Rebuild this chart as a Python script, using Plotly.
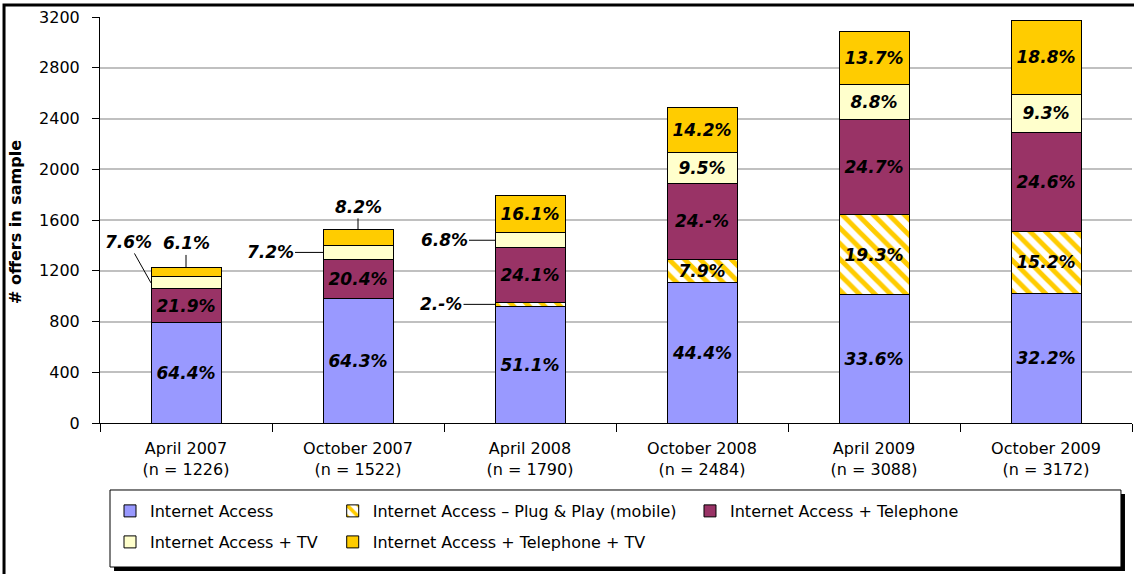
import plotly.graph_objects as go

# categories
periods = ["April 2007", "October 2007", "April 2008", "October 2008", "April 2009", "October 2009"]
n_sample = [1226, 1522, 1790, 2484, 3088, 3172]

# offers per product type
internet = [792, 981, 920, 1105, 1010, 1021]
plug = [0, 0, 30, 185, 630, 489]
tel = [265, 310, 433, 598, 750, 783]
tv = [94, 107, 115, 245, 280, 299]
tel_tv = [75, 124, 292, 351, 418, 580]

# share labels as printed on the chart
lbl_internet = ["64.4%", "64.3%", "51.1%", "44.4%", "33.6%", "32.2%"]
lbl_plug = ["", "", "2.-%", "7.9%", "19.3%", "15.2%"]
lbl_tel = ["21.9%", "20.4%", "24.1%", "24.-%", "24.7%", "24.6%"]
lbl_tv = ["7.6%", "7.2%", "6.8%", "9.5%", "8.8%", "9.3%"]
lbl_tel_tv = ["6.1%", "8.2%", "16.1%", "14.2%", "13.7%", "18.8%"]

FONT = "DejaVu Sans"
HALF = 0.2035  # half bar width in category units

series = [
    ("Internet Access", internet, lbl_internet, "#9999FF", None),
    ("Internet Access \u2013 Plug & Play (mobile)", plug, lbl_plug, "white", "\\"),
    ("Internet Access + Telephone", tel, lbl_tel, "#993366", None),
    ("Internet Access + TV", tv, lbl_tv, "#FFFFCC", None),
    ("Internet Access + Telephone + TV", tel_tv, lbl_tel_tv, "#FFCC00", None),
]

# labels drawn outside the bar with a leader line: (series index, bar index, anchor, ax, ay)
callouts = [
    (3, 0, "left", -23, -41),
    (4, 0, "top", 0, -24),
    (3, 1, "left", -53, 0),
    (4, 1, "top", 0, -23),
    (3, 2, "left", -51, 0),
    (1, 2, "left", -54, 0),
]
outside = {(s, i) for s, i, *_ in callouts}

x_labels = [f"{p}<br>(n = {n})" for p, n in zip(periods, n_sample)]

legend_pos = [
    ("legend", 0.0097, -0.2167),
    ("legend2", 0.2255, -0.2167),
    ("legend3", 0.5717, -0.2167),
    ("legend4", 0.0097, -0.2931),
    ("legend5", 0.2255, -0.2931),
]

fig = go.Figure()
for k, (name, vals, lbls, color, pat) in enumerate(series):
    text = ["" if (k, i) in outside else t for i, t in enumerate(lbls)]
    marker = dict(color=color, line=dict(color="black", width=1))
    if pat:
        marker["pattern"] = dict(shape=pat, fgcolor="#FFCC00", bgcolor="white",
                                 size=11, solidity=0.45, fillmode="replace")
    fig.add_trace(go.Bar(
        x=x_labels, y=vals, name=name, marker=marker,
        text=text, textposition="inside", insidetextanchor="middle",
        textangle=0,
        textfont=dict(family=FONT, size=17, color="black", weight="bold", style="italic"),
        legend=legend_pos[k][0], hoverinfo="name+y",
    ))

# cumulative tops to place callouts
stack = [internet, plug, tel, tv, tel_tv]
for s, i, anchor, ax, ay in callouts:
    base = sum(stack[j][i] for j in range(s))
    if anchor == "top":
        xp, yp = i, base + stack[s][i]
    else:
        xp, yp = i - HALF, base + stack[s][i] / 2
    fig.add_annotation(
        x=xp, y=yp, xref="x", yref="y", ax=ax, ay=ay,
        text=series[s][2][i], showarrow=True, arrowhead=0, arrowwidth=1,
        arrowcolor="black", standoff=0,
        font=dict(family=FONT, size=17, color="black", weight="bold", style="italic"),
    )

fig.add_annotation(
    x=-0.0824, y=0.495, xref="paper", yref="paper", showarrow=False,
    xanchor="center", yanchor="middle",
    text="# offers in sample", textangle=-90,
    font=dict(family=FONT, size=16, color="black", weight="bold"),
)

legend_common = dict(
    orientation="v", xanchor="left", yanchor="middle", bgcolor="rgba(0,0,0,0)",
    borderwidth=0, font=dict(family=FONT, size=16, color="black"),
)
layout_legends = {key: dict(x=x, y=y, **legend_common) for key, x, y in legend_pos}

fig.update_layout(
    width=1134, height=574,
    margin=dict(l=100, r=2, t=17, b=151),
    paper_bgcolor="white", plot_bgcolor="white",
    barmode="stack", bargap=0.593,
    font=dict(family=FONT, size=16, color="black"),
    uniformtext=dict(minsize=17, mode="show"),
    showlegend=True,
    shapes=[
        # outer chart frame
        dict(type="rect", xref="paper", yref="paper", x0=-0.093, x1=1.5, y0=-1, y1=1.0296,
             line=dict(color="black", width=3), layer="below"),
        # legend shadow and box
        dict(type="rect", xref="paper", yref="paper", x0=0.0136, x1=0.9932, y0=-0.3646, y1=-0.1749,
             fillcolor="black", line=dict(width=0), layer="below"),
        dict(type="rect", xref="paper", yref="paper", x0=0.0097, x1=0.9893, y0=-0.3547, y1=-0.165,
             fillcolor="white", line=dict(color="black", width=1), layer="below"),
    ],
    **layout_legends,
)

fig.update_xaxes(
    showline=True, linecolor="black", linewidth=1,
    ticks="outside", tickson="boundaries", ticklen=8, tickcolor="black",
    ticklabelstandoff=11,
    tickfont=dict(family=FONT, size=16, color="black"), showgrid=False,
)
fig.update_yaxes(
    range=[0, 3200], dtick=400, showline=True, linecolor="black", linewidth=1,
    ticks="outside", ticklen=7, tickcolor="black", ticklabelstandoff=9,
    showgrid=True, gridcolor="#C0C0C0", gridwidth=1.5, zeroline=False,
    tickfont=dict(family=FONT, size=16, color="black"),
)

fig.write_html("out.html", config={"displayModeBar": False},
               post_script="document.body.style.margin = '0px';")
